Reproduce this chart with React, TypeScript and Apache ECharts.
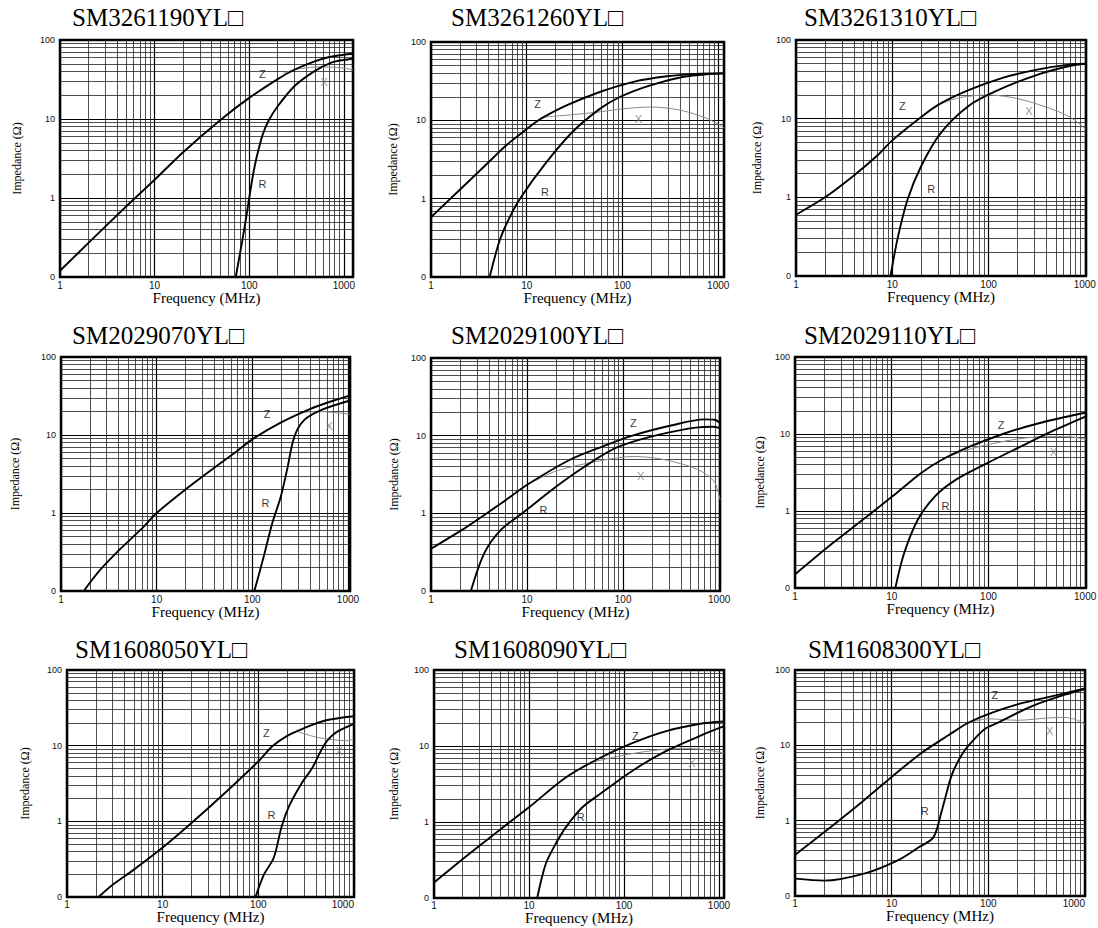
import React, { useEffect, useRef } from "react";
import * as echarts from "echarts";

// ---- data (frequency MHz, impedance Ohm) ----
const titles = [
  "SM3261190YL□", "SM3261260YL□", "SM3261310YL□",
  "SM2029070YL□", "SM2029100YL□", "SM2029110YL□",
  "SM1608050YL□", "SM1608090YL□", "SM1608300YL□",
];
const xMaxes = [1250, 1150, 1030, 1050, 1020, 1020, 1000, 1130, 1000];
const freqTicks = [1, 10, 100, 1000];
const impTicks = [0.1, 1, 10, 100];
const impTickLabels = ["0", "1", "10", "100"];
const minorSteps = [2, 3, 4, 5, 6, 7, 8, 9];
const freqDecades = [1, 10, 100];
const impDecades = [0.1, 1, 10];

const z1 = [[1,0.12],[2,0.27],[5,0.78],[10,1.7],[20,3.8],[50,9.8],[100,18.5],[200,32],[300,42],[500,54],[700,61],[1000,65],[1250,67]];
const r1 = [[72,0.1],[80,0.2],[90,0.45],[100,1.0],[110,2.0],[120,3.3],[138,6.2],[160,9.5],[200,14.5],[300,26],[500,41],[750,52],[1000,56],[1250,58]];
const x1 = [[230,38],[300,42],[400,44.5],[500,45.5],[700,45.5],[1000,44],[1250,42]];

const z2 = [[1,0.58],[2,1.3],[3.8,2.75],[6,4.7],[9,7.0],[12.6,9.6],[15,11],[26,15.5],[58,23],[130,31],[290,36.5],[650,39.5],[1150,40]];
const r2 = [[4.1,0.1],[5.2,0.29],[6.5,0.55],[8.5,1.0],[16,2.9],[30,7.1],[58,14],[95,20],[195,28],[435,36],[800,39],[1150,39.5]];
const x2 = [[15,11],[30,11.8],[60,12.9],[100,14],[200,14.8],[400,13.5],[700,11],[1000,9],[1150,8]];

const z3 = [[1,0.6],[2,1.0],[4,1.9],[7,3.4],[10,5.3],[20,10.5],[30,15],[62,23],[140,33],[320,42],[710,49],[1030,50]];
const r3 = [[9.6,0.1],[11.3,0.29],[14.4,0.93],[20,2.5],[32,6.6],[62,14.5],[119,22.4],[320,36],[710,47],[1030,50]];
const x3 = [[30,15],[50,18.5],[100,20],[200,18],[400,14],[700,10.5],[1030,7.3]];

const z4 = [[1.73,0.1],[2.5,0.18],[4,0.33],[6.9,0.62],[10,1.0],[20,2.0],[40,3.8],[70,6.3],[100,8.8],[200,14.5],[400,21.5],[700,27.5],[1050,32]];
const r4 = [[105,0.1],[131,0.27],[161,0.73],[198,1.6],[230,3.5],[275,9.5],[350,15.6],[530,21],[1050,27.7]];
const x4 = [[330,19.5],[500,20],[700,19.5],[1050,18.5]];

const z5 = [[1,0.35],[2.4,0.68],[5.4,1.35],[10.4,2.4],[28,4.9],[62,7.3],[125,10],[315,13.5],[700,16.2],[900,16],[1020,14.5]];
const r5 = [[2.6,0.1],[3.6,0.31],[5.4,0.62],[8.9,1.0],[20,2.2],[38.5,3.9],[85,7.0],[215,10],[600,12.8],[850,13],[1020,12.5]];
const x5 = [[12,2.6],[20,3.5],[50,4.6],[128,5.4],[250,5],[500,4],[700,3.3],[900,2.5],[1020,1.5]];

const z6 = [[1,0.15],[2.44,0.38],[5.5,0.84],[10.5,1.6],[20,3.1],[32.7,4.6],[63,6.8],[141,10],[318,13.6],[1020,19]];
const r6 = [[10.9,0.1],[13.4,0.28],[18.6,0.77],[28,1.55],[45,2.5],[94,4.1],[212,6.8],[480,11.2],[1020,17]];
const x6 = [[35,4.9],[60,6.2],[100,7.3],[200,8.6],[400,9.3],[700,9.2],[1020,8.5]];

const z7 = [[2.14,0.1],[3,0.145],[5,0.23],[10,0.45],[20,0.95],[50,2.7],[100,6.2],[140,9.8],[200,13.5],[300,17],[500,21.5],[1000,24.5]];
const r7 = [[93.5,0.1],[115,0.2],[145,0.33],[175,0.85],[210,1.6],[280,3.1],[370,5.2],[450,8.5],[520,11.5],[650,15],[1000,19.4]];
const x7 = [[250,15.5],[400,13],[600,12],[800,11.6],[1000,12.2]];

const z8 = [[1,0.16],[2.15,0.35],[4.8,0.77],[10,1.56],[24,3.8],[55,6.9],[122,10.9],[273,15.6],[615,19.5],[1130,21]];
const r8 = [[12.2,0.1],[15,0.28],[19,0.51],[24.4,0.85],[36.3,1.55],[55,2.3],[122,4.7],[273,8.5],[615,13.4],[1130,18.2]];
const x8 = [[48,6.2],[100,7.6],[200,8.7],[400,9.3],[700,9],[1130,8]];

const z9 = [[1,0.35],[2,0.7],[5,1.8],[10,3.8],[20,7.8],[40,14],[60,19.5],[100,26],[200,35],[500,46],[1000,57]];
const r9 = [[1,0.17],[2,0.16],[5.3,0.2],[11.7,0.3],[18.9,0.44],[27,0.6],[32.9,1.33],[41.7,4],[52.8,7.4],[67,11],[92,16.5],[126,20],[280,33],[620,47],[1000,56]];
const x9 = [[60,19.5],[100,22.5],[200,21.5],[400,23],[600,23.5],[800,22],[1000,19]];

const zSeries = [z1, z2, z3, z4, z5, z6, z7, z8, z9];
const rSeries = [r1, r2, r3, r4, r5, r6, r7, r8, r9];
const xSeries = [x1, x2, x3, x4, x5, x6, x7, x8, x9];

// curve-name label anchors [freq, impedance] for Z, R, X
const zLabelAt = [[138,37],[13,16],[12.7,14.7],[143,18.8],[128,14.4],[135,13.2],[121,14.8],[132,13.5],[117,47]];
const rLabelAt = [[138,1.5],[15.5,1.2],[25.4,1.26],[137,1.33],[14.8,1.1],[36,1.15],[137,1.22],[35,1.15],[22,1.33]];
const xLabelAt = [[620,29.6],[147,10.5],[263,12.7],[635,13],[152,3.0],[470,5.8],[700,8.6],[520,6.0],[430,15.5]];

// ---- layout (pixels) ----
const gridBoxes = [
  [60, 40, 353, 277], [431, 42, 724, 277], [796, 40, 1086, 276],
  [61, 357, 350, 591], [431, 358, 720, 591], [795, 357, 1086, 588],
  [67, 670, 354, 897], [434, 670, 724, 898], [795, 670, 1085, 896],
];
const titlePos = [
  [72, 5], [451, 5], [804, 5],
  [72, 323], [451, 323], [804, 323],
  [75, 637], [454, 637], [808, 637],
];
const yNameGaps = [37, 32, 33, 40, 31, 29, 36, 34, 29];
const xNameGaps = [14, 14, 14, 14, 14, 14, 13, 13, 13];
const xLabelMargins = [3, 3, 3, 3, 3, 3, 2, 2, 2];

export default function App() {
  const ref = useRef<HTMLDivElement>(null);
  useEffect(() => {
    if (!ref.current) return;
    const chart = echarts.init(ref.current, undefined, { renderer: "svg" });
    const grids: any[] = [];
    const xAxes: any[] = [];
    const yAxes: any[] = [];
    const series: any[] = [];
    const title: any[] = [];
    const freqMinor: number[] = [];
    freqDecades.forEach((d) => minorSteps.forEach((s) => freqMinor.push(d * s)));
    const impMinor: number[] = [];
    impDecades.forEach((d) => minorSteps.forEach((s) => impMinor.push(+(d * s).toFixed(3))));

    for (let i = 0; i < 9; i++) {
      const [l, t, r, b] = gridBoxes[i];
      grids.push({
        left: l, top: t, width: r - l, height: b - t,
        show: true, borderColor: "#000", borderWidth: 2.5, backgroundColor: "#fff",
        containLabel: false, outerBoundsMode: "none",
      });
      title.push({
        text: titles[i], left: titlePos[i][0], top: titlePos[i][1], padding: 0,
        textStyle: { fontFamily: "Liberation Serif", fontSize: 25, fontWeight: "normal", color: "#000" },
      });
      xAxes.push({
        type: "log", logBase: 10, gridIndex: i, min: 1, max: xMaxes[i],
        axisLine: { show: false }, axisTick: { show: false },
        splitLine: { show: true, lineStyle: { color: "#000", width: 1.2 } },
        axisLabel: {
          fontFamily: "Liberation Sans", fontSize: 10, color: "#111",
          margin: xLabelMargins[i], lineHeight: 10,
          alignMaxLabel: xMaxes[i] <= 1050 ? "right" : undefined,
          formatter: (v: number) => {
            const k = freqTicks.find((f) => Math.abs(v - f) < f * 0.01);
            return k ? String(k) : "";
          },
        },
        name: "Frequency (MHz)", nameLocation: "middle", nameGap: xNameGaps[i], nameMoveOverlap: false,
        nameTextStyle: { fontFamily: "Liberation Serif", fontSize: 15, lineHeight: 13, color: "#000" },
      });
      yAxes.push({
        type: "log", logBase: 10, gridIndex: i, min: 0.1, max: 100,
        axisLine: { show: false }, axisTick: { show: false },
        splitLine: { show: true, lineStyle: { color: "#000", width: 1.2 } },
        axisLabel: {
          fontFamily: "Liberation Sans", fontSize: 9, color: "#111", margin: 5,
          formatter: (v: number) => {
            const idx = impTicks.findIndex((f) => Math.abs(v - f) < f * 0.01);
            return idx >= 0 ? impTickLabels[idx] : "";
          },
        },
        name: "Impedance (Ω)", nameLocation: "middle", nameGap: yNameGaps[i], nameMoveOverlap: false,
        nameTextStyle: { fontFamily: "Liberation Serif", fontSize: 12, color: "#000" },
      });
      const xm = freqMinor.filter((v) => v < xMaxes[i]);
      series.push({
        type: "line", xAxisIndex: i, yAxisIndex: i, data: xSeries[i], z: 2,
        showSymbol: false, smooth: 0.3, silent: true,
        lineStyle: { color: "#8a8a8a", width: 1 },
        markLine: {
          silent: true, symbol: ["none", "none"], z: 1, animation: false,
          label: { show: false },
          lineStyle: { color: "#222", width: 0.8, type: "solid" },
          emphasis: { disabled: true },
          data: [...xm.map((v) => ({ xAxis: v })), ...impMinor.map((v) => ({ yAxis: v }))],
        },
      });
      series.push({
        type: "line", xAxisIndex: i, yAxisIndex: i, data: zSeries[i], z: 3,
        showSymbol: false, smooth: 0.3, silent: true,
        lineStyle: { color: "#000", width: 1.9 },
      });
      series.push({
        type: "line", xAxisIndex: i, yAxisIndex: i, data: rSeries[i], z: 3,
        showSymbol: false, smooth: 0.3, silent: true,
        lineStyle: { color: "#000", width: 1.9 },
      });
      series.push({
        type: "scatter", xAxisIndex: i, yAxisIndex: i, z: 4, silent: true,
        symbolSize: 1, itemStyle: { color: "rgba(0,0,0,0)" },
        data: [
          { name: "Z", value: zLabelAt[i], label: { color: "#000" } },
          { name: "R", value: rLabelAt[i], label: { color: "#000" } },
          { name: "X", value: xLabelAt[i], label: { color: "#777" } },
        ],
        label: {
          show: true, position: "inside", formatter: "{b}",
          fontFamily: "Liberation Sans", fontSize: 11,
        },
      });
    }

    chart.setOption({
      animation: false,
      backgroundColor: "#fff",
      title, grid: grids, xAxis: xAxes, yAxis: yAxes, series,
    });
    return () => chart.dispose();
  }, []);
  return (
    <div
      ref={ref}
      style={{ position: "absolute", left: 0, top: 0, width: 1098, height: 928 }}
    />
  );
}
